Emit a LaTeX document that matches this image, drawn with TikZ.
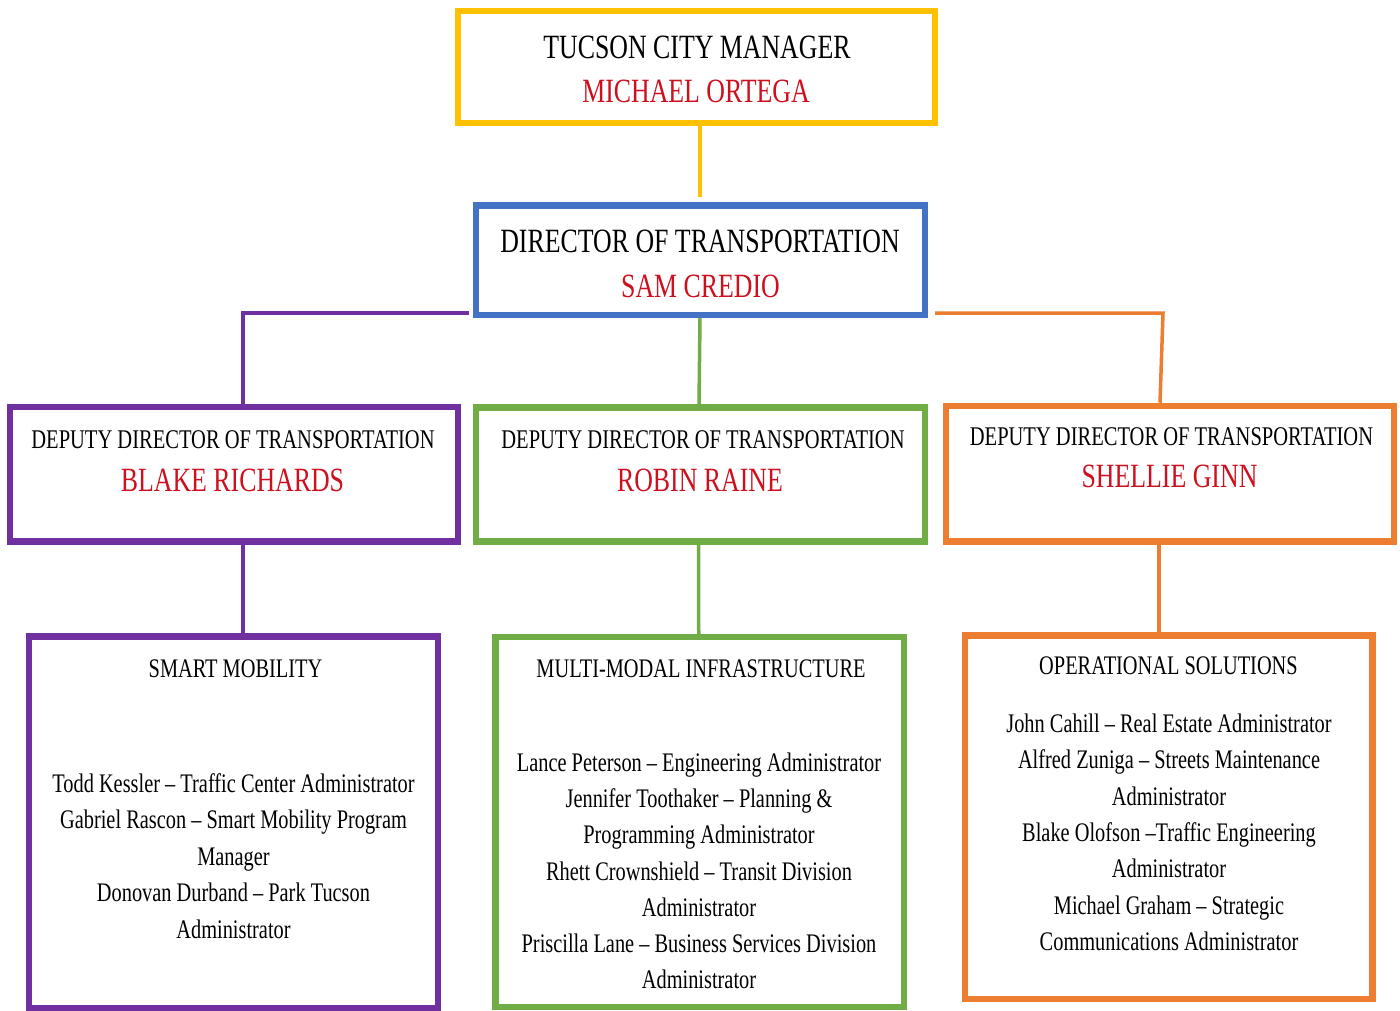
\documentclass[tikz,border=0pt]{standalone}
\usepackage{fontspec}
\setmainfont{Liberation Serif}[FakeStretch=0.76]
\usetikzlibrary{calc}
\definecolor{cyellow}{RGB}{255,192,0}
\definecolor{cblue}{RGB}{68,114,196}
\definecolor{cpurple}{RGB}{112,48,160}
\definecolor{cgreen}{RGB}{112,173,71}
\definecolor{corange}{RGB}{237,125,49}
\definecolor{namered}{RGB}{206,16,30}
\begin{document}
\begin{tikzpicture}[x=1pt,y=-1pt,
  box/.style={draw, line width=6.5pt, inner sep=0pt, rectangle},
  conn/.style={line width=3.5pt},
  bigtxt/.style={font=\fontsize{34}{40}\selectfont, anchor=base, inner sep=0pt},
  nametxt/.style={bigtxt, text=namered},
  deptxt/.style={font=\fontsize{27}{32}\selectfont, anchor=base, inner sep=0pt},
  bodytxt/.style={font=\fontsize{26.8}{32}\selectfont, anchor=base, inner sep=0pt}]
\useasboundingbox (0,0) rectangle (1400,1011);

% boxes
\node[box, draw=cyellow, minimum width=477pt, minimum height=112pt] (cm) at (696.5,67) {};
\node[box, draw=cblue, minimum width=449pt, minimum height=109.5pt] (dir) at (700.5,260.25) {};
\node[box, draw=cpurple, minimum width=448pt, minimum height=134.5pt] (ddp) at (234,474.25) {};
\node[box, draw=cgreen, minimum width=449pt, minimum height=134pt] (ddg) at (700.5,474.5) {};
\node[box, draw=corange, minimum width=448pt, minimum height=135.5pt] (ddo) at (1170,473.75) {};
\node[box, draw=cpurple, minimum width=409pt, minimum height=371.5pt] (sm) at (233.5,822.25) {};
\node[box, draw=cgreen, minimum width=408.5pt, minimum height=370pt] (mm) at (699.75,822) {};
\node[box, draw=corange, minimum width=407.5pt, minimum height=363.5pt] (os) at (1168.75,817.25) {};

% texts
\node[bigtxt] (cm1) at (697,59) {TUCSON CITY MANAGER};
\node[nametxt] (cm2) at (696,103) {MICHAEL ORTEGA};
\node[bigtxt] (dir1) at (700,252) {DIRECTOR OF TRANSPORTATION};
\node[nametxt] (dir2) at (700.5,297) {SAM CREDIO};

\node[deptxt] (ddp1) at (233,448) {DEPUTY DIRECTOR OF TRANSPORTATION};
\node[nametxt] (ddp2) at (232.5,491) {BLAKE RICHARDS};
\node[deptxt] (ddg1) at (703,448) {DEPUTY DIRECTOR OF TRANSPORTATION};
\node[nametxt] (ddg2) at (700,491) {ROBIN RAINE};
\node[deptxt] (ddo1) at (1171.5,445) {DEPUTY DIRECTOR OF TRANSPORTATION};
\node[nametxt] (ddo2) at (1169.5,487) {SHELLIE GINN};

\node[bodytxt] (sm0) at (235.5,677) {SMART MOBILITY};
\node[bodytxt] (sm1) at (233.5,792) {Todd Kessler – Traffic Center Administrator};
\node[bodytxt] (sm2) at (233.5,828.5) {Gabriel Rascon – Smart Mobility Program};
\node[bodytxt] (sm3) at (233.5,865) {Manager};
\node[bodytxt] (sm4) at (233.5,901.5) {Donovan Durband – Park Tucson};
\node[bodytxt] (sm5) at (233.5,938) {Administrator};

\node[bodytxt] (mm0) at (701,677) {MULTI-MODAL INFRASTRUCTURE};
\node[bodytxt] (mm1) at (699,771) {Lance Peterson – Engineering Administrator};
\node[bodytxt] (mm2) at (699,807) {Jennifer Toothaker – Planning \&};
\node[bodytxt] (mm3) at (699,843.5) {Programming Administrator};
\node[bodytxt] (mm4) at (699,880) {Rhett Crownshield – Transit Division};
\node[bodytxt] (mm5) at (699,916) {Administrator};
\node[bodytxt] (mm6) at (699,952.5) {Priscilla Lane – Business Services Division};
\node[bodytxt] (mm7) at (699,988.5) {Administrator};

\node[bodytxt] (os0) at (1168.5,674) {OPERATIONAL SOLUTIONS};
\node[bodytxt] (os1) at (1169,732) {John Cahill – Real Estate Administrator};
\node[bodytxt] (os2) at (1169,768.5) {Alfred Zuniga – Streets Maintenance};
\node[bodytxt] (os3) at (1169,805) {Administrator};
\node[bodytxt] (os4) at (1169,841) {Blake Olofson –Traffic Engineering};
\node[bodytxt] (os5) at (1169,877.5) {Administrator};
\node[bodytxt] (os6) at (1169,914) {Michael Graham – Strategic};
\node[bodytxt] (os7) at (1169,950) {Communications Administrator};

% connectors
\draw[conn, cyellow, shorten >=5pt] ($(cm.south)+(3.5,0)$) -- ($(dir.north)+(-0.5,0)$);
\draw[conn, cgreen] ($(dir.south)+(-0.5,0)$) -- ($(ddg.north)+(-1.5,0)$);
\coordinate (pj) at (469,313);
\draw[conn, cpurple] (pj) -| ($(ddp.north)+(9,0)$);
\coordinate (oj) at (935,313);
\coordinate (oc) at (1163,313);
\draw[conn, corange] (oj) -- (oc) -- ($(ddo.north)+(-10,0)$);
\draw[conn, cpurple] ($(ddp.south)+(9,0)$) -- ($(sm.north)+(9.5,0)$);
\draw[conn, cgreen] ($(ddg.south)+(-2,0)$) -- ($(mm.north)+(-1,0)$);
\draw[conn, corange] ($(ddo.south)+(-11,0)$) -- ($(os.north)+(-9.75,0)$);
\end{tikzpicture}
\end{document}
